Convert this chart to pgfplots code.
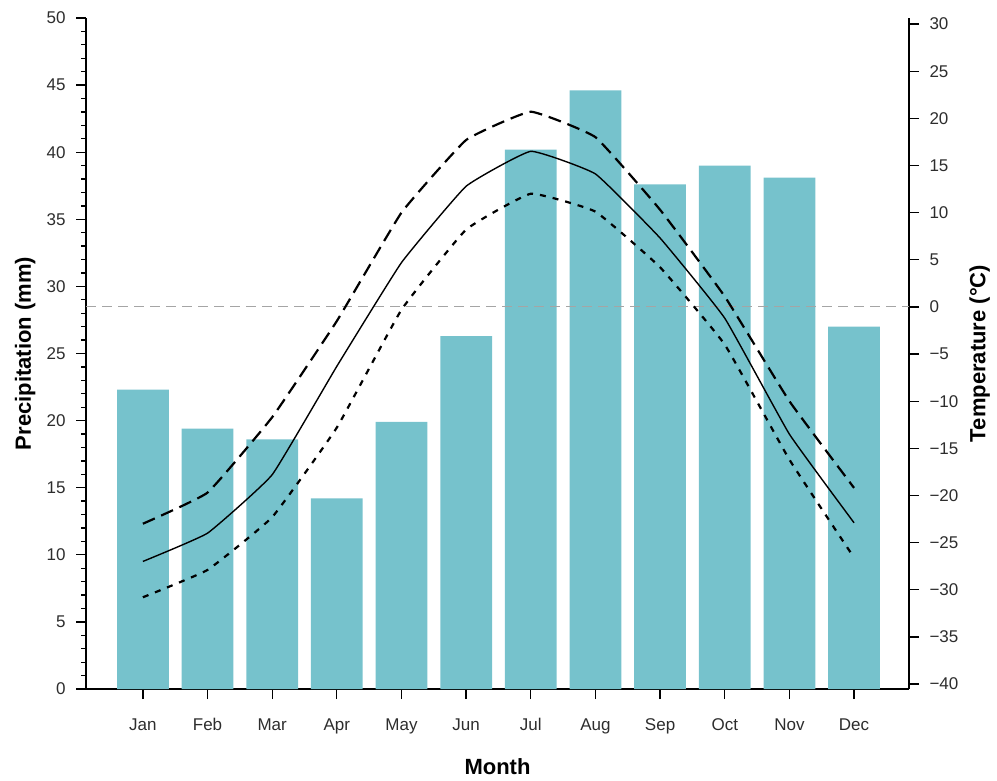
\documentclass[border=0pt]{standalone}
\usepackage{pgfplots}
\pgfplotsset{compat=1.18}
\usepackage{fontspec}
\setmainfont{Liberation Sans}
\definecolor{precip}{RGB}{118,194,204}
\definecolor{ticktext}{RGB}{45,45,45}
\definecolor{zeroline}{RGB}{165,165,165}

\pgfplotstableread{
m  prec  tmean  tmax   tmin
0  22.3  -27.0  -23.0  -30.8
1  19.4  -24.0  -19.7  -27.9
2  18.6  -17.8  -11.7  -22.3
3  14.2   -6.3   -1.5  -12.8
4  19.9    4.7   10.0   -0.3
5  26.3   12.8   17.7    8.2
6  40.2   16.5   20.7   12.0
7  44.6   14.1   18.0   10.1
8  37.6    7.3   10.3    4.2
9  39.0   -1.2    1.1   -4.0
10 38.1  -13.5  -10.0  -16.2
11 27.0  -22.9  -19.2  -26.6
}\climate

\begin{document}
\begin{tikzpicture}[x=1pt,y=1pt]
\path[use as bounding box] (-86,-91) rectangle (911,689);
\pgfplotsset{
  common/.style={
    scale only axis, width=823pt, height=671pt,
    at={(0,0)}, anchor=south west,
    xmin=-0.88, xmax=11.85,
    tick align=outside,
    axis line style={line width=1.4pt, black},
    every tick/.style={line width=1.3pt, black},
    major tick length=10pt, minor tick length=5pt,
    tick label style={font=\fontsize{17}{20}\selectfont, text=ticktext},
    label style={font=\fontsize{22}{26}\selectfont\bfseries},
    /pgf/number format/assume math mode=true,
  }
}
% precipitation bars on the left axis
\begin{axis}[common,
  axis x line*=bottom, axis y line*=left,
  ymin=0, ymax=50, ytick={0,5,...,50}, minor y tick num=4,
  xtick={0,...,11},
  xticklabels={Jan,Feb,Mar,Apr,May,Jun,Jul,Aug,Sep,Oct,Nov,Dec},
  x tick label style={yshift=-16pt},
  y tick label style={xshift=-7pt},
  xlabel={Month}, ylabel={Precipitation (mm)},
  xlabel style={at={(axis description cs:0.5,-0.116)}, anchor=center},
  ylabel style={at={(axis description cs:-0.074,0.5)}, anchor=center},
]
\addplot[ybar, bar width=0.8, fill=precip, draw=none] table[x=m, y=prec] {\climate};
\end{axis}
% temperature lines on the right axis
\begin{axis}[common,
  axis x line=none, axis y line*=right,
  ymin=-40.53, ymax=30.64,
  ytick={-40,-35,...,30},
  yticklabels={−40,−35,−30,−25,−20,−15,−10,−5,0,5,10,15,20,25,30},
  y tick label style={xshift=7pt},
  ylabel={Temperature (°C)},
  ylabel style={at={(axis description cs:1.086,0.5)}, anchor=center},
]
\addplot[zeroline, line width=1.1pt, dash pattern=on 10pt off 6pt] coordinates {(-0.88,0) (11.85,0)};
\addplot[black, line width=2.2pt, dash pattern=on 13pt off 7pt, smooth, tension=0.2] table[x=m, y=tmax] {\climate};
\addplot[black, line width=1.4pt, smooth, tension=0.2] table[x=m, y=tmean] {\climate};
\addplot[black, line width=2.2pt, dash pattern=on 6pt off 7pt, smooth, tension=0.2] table[x=m, y=tmin] {\climate};
\end{axis}
\end{tikzpicture}
\end{document}
